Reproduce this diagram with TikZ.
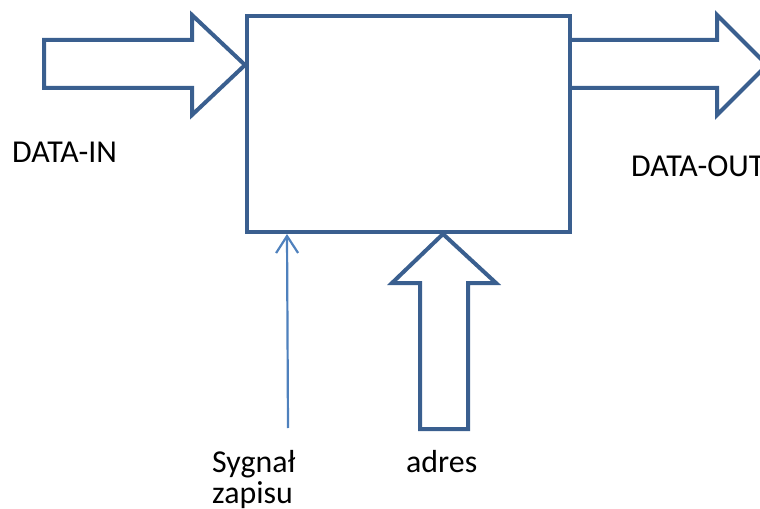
\documentclass[tikz,border=0pt]{standalone}
\usepackage{fontspec}
\setmainfont{Carlito}
\usetikzlibrary{arrows.meta}
\definecolor{frame}{HTML}{3A5F8F}
\definecolor{wire}{HTML}{4F81BD}
\tikzset{
  blockline/.style={draw=frame, line width=4bp, line join=miter},
  label/.style={inner sep=0pt, anchor=base west, font=\fontsize{32}{32}\selectfont},
}
\begin{document}
\begin{tikzpicture}[x=1bp, y=-1bp]
\useasboundingbox (0,0) rectangle (760,509);
% memory block
\node[blockline, minimum width=323bp, minimum height=216bp, inner sep=0pt] (mem) at (408.5,124) {};
% DATA-IN block arrow
\draw[blockline] (44,40) -- (192,40) -- (192,15) -- (mem.west |- 0,65) -- (192,115) -- (192,88) -- (44,88) -- cycle;
% DATA-OUT block arrow (tip runs past the right edge)
\begin{scope}
\clip (0,0) rectangle (760,509);
\draw[blockline] (mem.east |- 0,40) -- (717,40) -- (717,15) -- (767,65) -- (717,115) -- (717,88) -- (mem.east |- 0,88);
\end{scope}
% address block arrow
\draw[blockline] (420,429) -- (420,283) -- (392,283) -- (mem.south -| 443,0) -- (496,283) -- (468,283) -- (468,429) -- cycle;
% write signal
\coordinate (sig) at (288,428);
\draw[wire, line width=2.2bp, -{Straight Barb[length=17bp, width=22bp, line width=2.2bp]}] (sig) -- (mem.south -| 287,0);
% labels
\node[label] (din) at (12,163) {DATA-IN};
\node[label] (dout) at (631,177) {DATA-OUT};
\node[label] (sg1) at (212,472) {Sygnał};
\node[label] (sg2) at (212,503) {zapisu};
\node[label] (adr) at (406,472) {adres};
\end{tikzpicture}
\end{document}
